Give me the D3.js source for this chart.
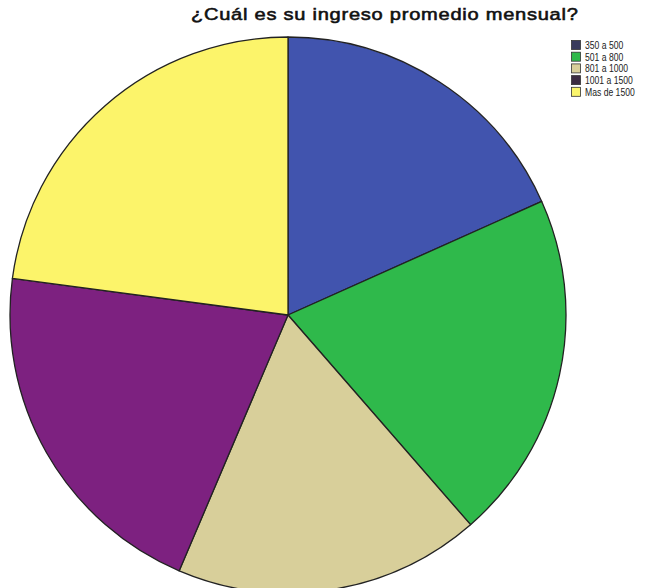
<!DOCTYPE html>
<html>
<head>
<meta charset="utf-8">
<script src="https://cdn.jsdelivr.net/npm/d3@7"></script>
<style>
  body { margin: 0; background: #fff; }
  svg { display: block; }
</style>
</head>
<body>
<svg id="chart" width="661" height="588"></svg>
<script>
// Income brackets and their share of respondents (%)
const categories = ["350 a 500", "501 a 800", "801 a 1000", "1001 a 1500", "Mas de 1500"];
const shares = [18.3, 20.3, 17.8, 20.7, 22.9];
const sliceColors = ["#4154ae", "#2fb94b", "#d8cf9a", "#7d2180", "#fcf46a"];
const legendColors = ["#383a5c", "#2fb94b", "#d8cf9a", "#3b2b42", "#fbf66c"];
const title = "¿Cuál es su ingreso promedio mensual?";

const svg = d3.select("#chart");
const cx = 288, cy = 315, radius = 278;

const pie = d3.pie().sort(null).value(d => d.value);
const arc = d3.arc().innerRadius(0).outerRadius(radius);
const data = categories.map((c, i) => ({ name: c, value: shares[i], color: sliceColors[i] }));

const g = svg.append("g").attr("transform", `translate(${cx},${cy})`);
g.selectAll("path")
  .data(pie(data))
  .join("path")
  .attr("d", arc)
  .attr("fill", d => d.data.color)
  .attr("stroke", "#222")
  .attr("stroke-width", 1.3)
  .attr("stroke-linejoin", "round");

// Title: regular weight thickened with a thin outline, widened to span its box
const titleText = svg.append("text")
  .attr("font-family", "Liberation Sans, Arial, sans-serif")
  .attr("font-size", 16)
  .attr("letter-spacing", 0.6)
  .attr("fill", "#111")
  .attr("stroke", "#111")
  .attr("stroke-width", 0.55)
  .text(title);
const natural = titleText.node().getComputedTextLength();
const sx = 388 / natural;
titleText.attr("transform", `translate(191,20) scale(${sx},1)`);

// Legend
const legend = svg.append("g").attr("transform", "translate(571,40)");
const rows = legend.selectAll("g")
  .data(categories)
  .join("g")
  .attr("transform", (d, i) => `translate(0,${i * 11.7})`);
rows.append("rect")
  .attr("x", 0.5).attr("y", 0.5)
  .attr("width", 9).attr("height", 9)
  .attr("fill", (d, i) => legendColors[i])
  .attr("stroke", "#333")
  .attr("stroke-width", 0.8);
rows.append("text")
  .attr("transform", "translate(14,9) scale(0.82,1)")
  .attr("font-family", "Liberation Sans, Arial, sans-serif")
  .attr("font-size", 10.5)
  .attr("fill", "#222")
  .text(d => d);
</script>
</body>
</html>
